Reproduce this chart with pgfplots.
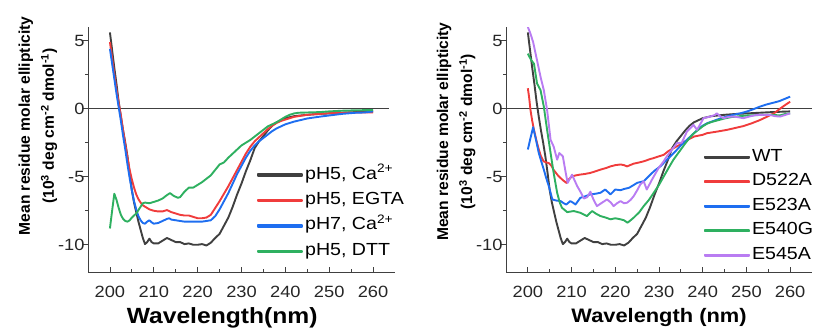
\documentclass[border=0pt]{standalone}
\usepackage{fontspec}
\setmainfont{Liberation Sans}[FakeStretch=1.12]
\newfontfamily\ylabfont{Liberation Sans}
\usepackage{pgfplots}
\usepackage{pgfplotstable}
\pgfplotsset{compat=1.18}
\definecolor{cblack}{RGB}{64,64,64}
\definecolor{cred}{RGB}{240,60,60}
\definecolor{cblue}{RGB}{30,110,240}
\definecolor{cgreen}{RGB}{46,176,96}
\definecolor{cviolet}{RGB}{185,124,242}

\pgfplotstableread{
x y
200 5.6
200.5 4.3
201 3.0
201.5 1.8
202 0.5
202.5 -0.6
203 -1.6
203.5 -2.5
204 -3.5
204.5 -4.7
205 -6.0
205.5 -6.9
206 -7.6
206.5 -8.3
207 -8.9
207.5 -9.5
208 -9.95
208.5 -9.8
209 -9.55
209.5 -9.8
210 -9.9
211 -9.9
212 -9.7
213 -9.5
214 -9.65
215 -9.8
216 -9.8
217 -9.95
218 -9.9
219 -10.0
220 -10.0
221 -9.95
222 -10.05
223 -9.85
224 -9.5
225 -9.2
226 -8.6
227 -8.0
228 -7.2
229 -6.3
230 -5.5
231 -4.6
232 -3.8
233 -2.9
234 -2.4
235 -2.0
236 -1.6
237 -1.25
238 -1.0
239 -0.85
240 -0.7
242 -0.55
245 -0.45
248 -0.38
250 -0.35
253 -0.3
256 -0.25
260 -0.2
}\tblack

\pgfplotstableread{
x y
200 4.9
200.5 3.7
201 2.5
201.5 1.4
202 0.4
202.5 -0.5
203 -1.6
203.5 -2.6
204 -3.6
204.5 -4.5
205 -5.2
205.5 -5.8
206 -6.3
206.5 -6.65
207 -6.9
207.5 -7.1
208 -7.2
209 -7.4
210 -7.5
211 -7.55
212 -7.55
213 -7.45
214 -7.6
215 -7.7
216 -7.8
217 -7.85
218 -7.85
219 -7.95
220 -8.05
221 -8.05
222 -8.0
223 -7.8
224 -7.3
225 -6.8
226 -6.25
227 -5.7
228 -5.1
229 -4.5
230 -3.9
231 -3.3
232 -2.8
233 -2.4
234 -2.1
235 -1.8
236 -1.5
237 -1.25
238 -1.05
239 -0.9
240 -0.8
242 -0.6
245 -0.45
248 -0.38
250 -0.33
253 -0.3
256 -0.28
260 -0.28
}\tred

\pgfplotstableread{
x y
200 4.4
200.5 3.3
201 2.2
201.5 1.1
202 0.1
202.5 -0.9
203 -2.0
203.5 -3.0
204 -4.1
204.5 -5.1
205 -6.0
205.5 -6.8
206 -7.4
206.5 -7.9
207 -8.2
207.5 -8.4
208 -8.45
208.5 -8.3
209 -8.2
209.5 -8.35
210 -8.45
211 -8.4
212 -8.25
213 -8.1
213.5 -8.05
214 -8.15
215 -8.2
216 -8.25
217 -8.3
218 -8.3
219 -8.3
220 -8.3
221 -8.3
222 -8.25
223 -8.2
224 -7.9
225 -7.4
226 -6.8
227 -6.2
228 -5.5
229 -4.8
230 -4.2
231 -3.6
232 -3.1
233 -2.7
234 -2.4
235 -2.15
236 -1.9
237 -1.65
238 -1.45
239 -1.3
240 -1.15
242 -0.95
245 -0.72
248 -0.58
250 -0.5
253 -0.38
256 -0.3
258 -0.28
260 -0.2
}\tblue

\pgfplotstableread{
x y
200 -8.8
200.5 -7.5
201 -6.25
201.5 -6.7
202 -7.3
202.5 -7.8
203 -8.1
203.5 -8.25
204 -8.3
204.5 -8.2
205 -8.0
205.5 -7.85
206 -7.7
206.5 -7.45
207 -7.2
207.5 -6.95
208 -6.9
209 -6.95
210 -6.85
211 -6.75
212 -6.6
213 -6.35
213.7 -6.2
214.5 -6.4
215.5 -6.55
216 -6.5
217 -6.1
218 -5.8
219 -5.8
220 -5.6
221 -5.4
222 -5.15
223 -4.9
224 -4.5
225 -4.1
226 -3.95
227 -3.6
228 -3.3
229 -3.0
230 -2.7
231 -2.5
232 -2.3
233 -2.05
234 -1.8
235 -1.55
236 -1.3
237 -1.15
238 -1.0
239 -0.8
240 -0.6
241 -0.45
242 -0.35
243 -0.3
245 -0.28
248 -0.25
250 -0.2
253 -0.15
256 -0.12
260 -0.1
}\tgreen

\pgfplotstableread{
x y
200 1.5
200.3 0.8
200.6 -0.1
201 -0.9
201.4 -1.56
202 -2.4
202.5 -3.0
203 -3.5
203.6 -3.87
204.2 -3.95
204.8 -4.0
205.4 -4.2
205.9 -4.5
206.5 -4.75
207 -4.95
207.5 -5.1
208 -5.25
208.8 -5.45
209.5 -5.15
210.1 -4.97
211 -4.9
212 -4.84
213 -4.8
214.3 -4.72
215.5 -4.6
216.6 -4.48
218 -4.35
218.9 -4.24
220 -4.15
221.2 -4.1
222 -4.15
222.7 -4.24
224.2 -4.04
225.5 -3.95
226.5 -3.87
228 -3.7
228.8 -3.63
230 -3.5
231.1 -3.39
232 -3.15
233.3 -2.9
234.5 -2.7
235.5 -2.5
236.5 -2.3
238 -2.05
240 -1.92
241 -1.8
243 -1.7
245.5 -1.56
247 -1.45
249.3 -1.28
251 -1.1
253 -0.85
255 -0.55
256.5 -0.3
257.7 0.0
259 0.3
260 0.51
}\tdfive

\pgfplotstableread{
x y
200 -3.0
200.5 -2.3
201.2 -1.36
201.8 -2.2
202.5 -3.26
203 -3.8
203.65 -4.48
204.2 -5.1
204.8 -5.7
205.6 -6.67
206.5 -6.75
207.5 -6.79
208.2 -6.95
208.8 -7.04
209.7 -6.79
210.3 -6.9
210.9 -7.04
212 -6.55
213 -6.45
214.3 -6.3
215.5 -6.25
216.6 -6.18
217.7 -5.94
218.9 -6.3
220 -5.94
221.2 -5.99
222 -5.9
223.1 -5.82
224 -5.65
225 -5.45
226.5 -5.33
228 -4.85
229 -4.55
230.3 -4.24
231.5 -3.85
232.6 -3.5
234 -3.05
235 -2.7
236 -2.4
237 -2.1
238 -1.8
239 -1.5
240 -1.25
241 -1.07
242.5 -0.9
244 -0.72
245.5 -0.58
247 -0.45
248.5 -0.35
250 -0.22
251.5 -0.05
253.1 0.15
254.5 0.3
256.2 0.44
257.5 0.55
259 0.75
260 0.88
}\tefive

\pgfplotstableread{
x y
200 4.04
200.7 3.6
201.4 3.3
202.1 1.85
202.9 1.36
203.65 0.15
204.4 -1.56
205.2 -3.26
205.9 -4.72
206.7 -6.18
207.3 -6.9
207.8 -7.28
209 -7.6
210.5 -7.52
212 -7.65
213.5 -7.89
214.7 -7.52
215.5 -7.7
216.6 -7.89
217.8 -8.0
218.9 -8.13
220 -8.05
221.2 -8.13
222 -8.2
222.8 -8.38
223.5 -8.2
224.2 -8.01
225.5 -7.6
226.5 -7.16
227.7 -6.7
228.8 -6.18
230 -5.6
231.1 -4.97
232.2 -4.35
233.3 -3.75
234.2 -3.35
235 -3.0
236 -2.55
237 -2.15
238 -1.8
239 -1.55
240 -1.3
241 -1.1
242 -0.98
243.5 -0.85
245 -0.72
246.5 -0.62
248.5 -0.55
250 -0.5
252 -0.48
254 -0.45
256 -0.45
257.6 -0.5
259 -0.38
260 -0.34
}\tefour

\pgfplotstableread{
x y
200 6.0
200.5 5.6
201.2 4.9
202.1 3.55
202.9 2.34
203.65 1.36
204.4 -0.1
205.2 -2.29
205.9 -2.78
206.7 -3.75
207.2 -3.26
208 -3.5
208.6 -4.6
209.1 -5.45
210.1 -4.85
211.3 -5.7
212.2 -6.2
212.8 -6.6
213.6 -6.5
214.3 -6.1
215 -6.67
215.8 -7.16
217 -6.9
218.1 -6.67
219 -6.9
219.6 -7.16
220.4 -6.95
221.2 -6.79
222 -6.95
222.7 -6.91
223.5 -6.7
224.2 -6.43
225 -6.0
225.7 -5.58
226.5 -5.33
227.2 -5.94
228.4 -5.21
229.9 -4.36
231 -3.9
231.8 -3.5
233 -3.0
234.1 -2.53
235.2 -2.5
236.4 -1.68
237.9 -1.19
238.7 -1.56
239.5 -1.1
240.2 -0.7
241.7 -0.58
242.8 -0.46
243.2 -0.34
244 -0.55
244.7 -0.7
246 -0.6
247 -0.58
248 -0.62
249.3 -0.7
251 -0.55
252.4 -0.46
254 -0.45
255.4 -0.46
256.5 -0.55
257.7 -0.58
259 -0.45
260 -0.34
}\tefourfive

\pgfplotsset{cdaxis/.style={
  scale only axis, width=307pt, height=245pt,
  xmin=195, xmax=265, ymin=-12, ymax=6,
  axis x line=bottom, axis y line=left,
  axis line style={-, line width=1pt, draw=cblack},
  xtick={200,210,...,260}, ytick={-10,-5,0,5},
  minor x tick num=1, minor y tick num=1,
  tick align=inside, major tick length=5pt, minor tick length=3pt,
  tick style={cblack, line width=0.8pt},
  every major y tick/.append style={xshift=-5pt},
  every minor y tick/.append style={xshift=-3pt},
  /pgf/number format/assume math mode=true,
  ticklabel style={font=\fontsize{16.3}{18}\selectfont, text=black!85},
  xticklabel style={anchor=base, yshift=-25pt},
  every axis plot/.append style={line width=1.9pt, mark=none, line join=round},
  legend style={draw=none, fill=none, font=\fontsize{17.5}{19}\selectfont,
    legend cell align=left, inner sep=0pt,
    nodes={inner sep=2pt, text height=12pt, text depth=4pt}},
  legend image code/.code={\fill[#1] (0pt,-0.75pt) rectangle (44pt,0.75pt);},
  xlabel style={font=\bfseries\fontsize{19.5}{22}\selectfont, anchor=base},
  ylabel style={font=\ylabfont\bfseries\fontsize{15.6}{24}\selectfont, align=center, anchor=center, rotate=0},
}}

\begin{document}
\begin{tikzpicture}
\path[use as bounding box] (0pt,0pt) rectangle (813pt,330pt);
\begin{axis}[cdaxis, at={(88pt,58pt)}, anchor=south west,
  xlabel={Wavelength(nm)},
  xlabel style={at={(axis description cs:0.437,-0.21)}, font=\bfseries\fontsize{22}{24}\selectfont},
  ylabel={Mean residue molar ellipticity\\(10\textsuperscript{3} deg cm\textsuperscript{-2} dmol\textsuperscript{-1})},
  ylabel style={at={(axis description cs:-0.163,0.596)}},
  legend style={at={(axis description cs:0.5505,0.437)}, anchor=north west, row sep=5.4pt},
]
\draw[cblack, line width=1.1pt] (axis cs:195,0) -- (axis cs:263.6,0);
\addplot[cblack] table {\tblack};
\addlegendentry{pH5, Ca\textsuperscript{2+}}
\addplot[cred] table {\tred};
\addlegendentry{pH5, EGTA}
\addplot[cblue] table {\tblue};
\addlegendentry{pH7, Ca\textsuperscript{2+}}
\addplot[cgreen] table {\tgreen};
\addlegendentry{pH5, DTT}
\end{axis}
\begin{axis}[cdaxis, at={(506pt,58pt)}, anchor=south west, width=306pt,
  xlabel={Wavelength (nm)},
  xlabel style={at={(axis description cs:0.5,-0.207)}},
  ylabel={Mean residue molar ellipticity\\(10\textsuperscript{3} deg cm\textsuperscript{-2} dmol\textsuperscript{-1})},
  ylabel style={at={(axis description cs:-0.163,0.573)}},
  legend style={at={(axis description cs:0.647,0.51)}, anchor=north west, row sep=4.5pt},
]
\draw[cblack, line width=1.1pt] (axis cs:195,0) -- (axis cs:265,0);
\addplot[cblack] table {\tblack};
\addlegendentry{WT}
\addplot[cred] table {\tdfive};
\addlegendentry{D522A}
\addplot[cblue] table {\tefive};
\addlegendentry{E523A}
\addplot[cgreen] table {\tefour};
\addlegendentry{E540G}
\addplot[cviolet] table {\tefourfive};
\addlegendentry{E545A}
\end{axis}
\end{tikzpicture}
\end{document}
